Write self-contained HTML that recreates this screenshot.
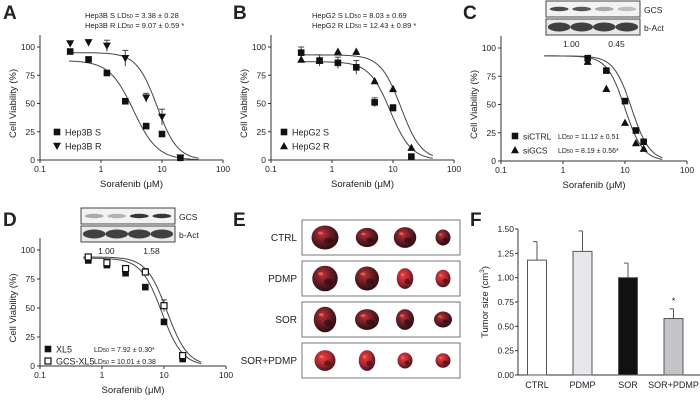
<!DOCTYPE html>
<html><head><meta charset="utf-8">
<style>
body{margin:0;background:#fff;}
svg{display:block;font-family:"Liberation Sans",Arial,sans-serif;}
</style></head>
<body>
<svg id="fig" width="700" height="408" viewBox="0 0 700 408" xmlns="http://www.w3.org/2000/svg">
<defs>
<radialGradient id="tum" cx="40%" cy="35%" r="65%">
<stop offset="0" stop-color="#c03038"/><stop offset="0.5" stop-color="#6a1e26"/><stop offset="1" stop-color="#2a0e12"/>
</radialGradient>
<radialGradient id="tum2" cx="40%" cy="35%" r="65%">
<stop offset="0" stop-color="#f04040"/><stop offset="0.55" stop-color="#a82832"/><stop offset="1" stop-color="#4a141c"/>
</radialGradient>
</defs>
<g id="root"></g>
</svg>
<script>
// ---------- DATA ----------
const aDoses=[0.3125,0.625,1.25,2.5,5.5,10,20];
const aS=[96,89,77,52,30,23,2];
const aR=[103,104,101,90,55,38,2];
const aRerr=[0,0,5,7,4,7,0];
const bDoses=[0.3125,0.625,1.25,2.5,5,10,20];
const bS=[95,88,86,82,51,46,3];
const bR=[89,88,96,96,70,63,11];
const bSerr=[5,5,5,6,4,3,0];
const cDoses=[2.5,5,10,15,20];
const cCtrl=[91,80,53,27,17];
const cGcs=[88,64,34,16,11];
const dDoses=[0.6,1.2,2.4,5,10,20];
const dXL5=[91,87,80,68,38,6];
const dGCS=[94,89,84,81,52,9];
const fCats=["CTRL","PDMP","SOR","SOR+PDMP"];
const fVals=[1.18,1.27,1.00,0.58];
const fErr=[0.19,0.21,0.15,0.10];
const yTicks=[0,25,50,75,100];
const xTicks=[0.1,1,10,100];
const xTickLabels=["0.1","1","10","100"];
const fTicks=[0,0.25,0.5,0.75,1.0,1.25,1.5];
const fTickLabels=["0.00","0.25","0.50","0.75","1.00","1.25","1.50"];

const NS="http://www.w3.org/2000/svg";
const root=document.getElementById('root');
function el(tag,attrs,parent,text){const e=document.createElementNS(NS,tag);for(const k in attrs)e.setAttribute(k,attrs[k]);if(text!==undefined)e.textContent=text;(parent||root).appendChild(e);return e;}
function hill(x,top,ec,h){return top/(1+Math.pow(x/ec,h));}

function makePanel(name,x0,y100,y0,decade){
  const g=el('g',{});
  
  
  const sx=v=>x0+decade*(Math.log10(v)+1);
  const sy=v=>y0-(y0-y100)*v/100;
  el('line',{x1:x0,y1:y100-12,x2:x0,y2:y0,stroke:'#333','stroke-width':1},g);
  el('line',{x1:x0,y1:y0,x2:x0+3*decade,y2:y0,stroke:'#333','stroke-width':1},g);
  yTicks.forEach(t=>{
    el('line',{x1:x0-3,y1:sy(t),x2:x0,y2:sy(t),stroke:'#333'},g);
    const tx=el('text',{x:x0-5,y:sy(t)+3,'font-size':8.5,'text-anchor':'end',fill:'#222'},g,String(t));
    
    
  });
  xTicks.forEach((t,i)=>{
    el('line',{x1:sx(t),y1:y0,x2:sx(t),y2:y0+3,stroke:'#333'},g);
    const tx=el('text',{x:sx(t),y:y0+12,'font-size':8.5,'text-anchor':'middle',fill:'#222'},g,xTickLabels[i]);
    
    
  });
  const yt=el('text',{x:0,y:0,'font-size':9.5,'text-anchor':'middle',fill:'#222',transform:`translate(${x0-24},${(y100+y0)/2}) rotate(-90)`},g,'Cell Viability (%)');
  
  
  const xt=el('text',{x:x0+1.5*decade,y:y0+27,'font-size':9.5,'text-anchor':'middle',fill:'#222'},g,'Sorafenib (μM)');
  
  
  return {g,sx,sy};
}
function curve(p,from,to,top,ec,h,name){
  let d='';for(let i=0;i<=120;i++){const lx=Math.log10(from)+(Math.log10(to)-Math.log10(from))*i/120;const x=Math.pow(10,lx);d+=(i?'L':'M')+p.sx(x).toFixed(1)+','+p.sy(hill(x,top,ec,h)).toFixed(1);}
  const c=el('path',{d:d,fill:'none',stroke:'#444','stroke-width':1},p.g);
  
  
}
function marker(g,type,cx,cy,name){
  let m;
  if(type==='sq')m=el('rect',{x:cx-3.3,y:cy-3.3,width:6.6,height:6.6,fill:'#111'},g);
  else if(type==='osq')m=el('rect',{x:cx-3,y:cy-3,width:6,height:6,fill:'#fff',stroke:'#111','stroke-width':1.2},g);
  else if(type==='tri')m=el('path',{d:`M${cx},${cy-4}L${cx+4},${cy+3.3}L${cx-4},${cy+3.3}Z`,fill:'#111'},g);
  else m=el('path',{d:`M${cx},${cy+4}L${cx+4},${cy-3.3}L${cx-4},${cy-3.3}Z`,fill:'#111'},g);
  
  
}
function series(p,xs,ys,errs,type,name){
  xs.forEach((x,i)=>{
    const cx=p.sx(x),cy=p.sy(ys[i]);
    const e=errs?errs[i]:0;
    if(e>0){el('line',{x1:cx,y1:p.sy(ys[i]+e),x2:cx,y2:p.sy(ys[i]-e),stroke:'#444'},p.g);
      el('line',{x1:cx-3,y1:p.sy(ys[i]+e),x2:cx+3,y2:p.sy(ys[i]+e),stroke:'#444'},p.g);}
    marker(p.g,type,cx,cy,name);
  });
}
function txt(x,y,s,size,anchor,name,weight,parent){const t=el('text',{x:x,y:y,'font-size':size,'text-anchor':anchor||'start',fill:'#222','font-weight':weight||'normal'},parent);t.textContent=s;
  
  
  return t;}
function ld(x,y,label,val,parent,size){const t=el('text',{x:x,y:y,'font-size':size||7.5,fill:'#222'},parent);t.innerHTML=(label?label+' ':'')+'LD<tspan font-size="5.5">50</tspan> = '+val;
  
  }
function legendEntry(g,type,x,y,label,size){marker(g,type,x,y,'legend-marker');txt(x+8,y+3.5,label,size||9,'start','legend-entry',null,g);}

// Panel letters
[['A',3,19],['B',233,19],['C',463,19],['D',3,226],['E',233,226],['F',470,226]].forEach(l=>txt(l[1],l[2],l[0],19,'start','panel-label-'+l[0].toLowerCase(),'bold'));

// Panel A
const pA=makePanel('panel-a-chart',40,47,160,61);
curve(pA,0.3,40,88,3.4,2.2,'hep3b-s-curve');
curve(pA,0.3,40,95,8.3,2.6,'hep3b-r-curve');
series(pA,aDoses,aS,null,'sq','hep3b-s-point');
series(pA,aDoses,aR,aRerr,'itri','hep3b-r-point');
legendEntry(pA.g,'sq',57,132,'Hep3B S');
legendEntry(pA.g,'itri',57,146,'Hep3B R');
ld(85,18,'Hep3B S','3.38 ± 0.28',pA.g);
ld(85,28,'Hep3B R','9.07 ± 0.59 *',pA.g);

// Panel B
const pB=makePanel('panel-b-chart',271,47,160,61);
curve(pB,0.3,45,87,9,2.5,'hepg2-s-curve');
curve(pB,0.3,45,93,13.5,2.6,'hepg2-r-curve');
series(pB,bDoses,bS,bSerr,'sq','hepg2-s-point');
series(pB,bDoses,bR,null,'tri','hepg2-r-point');
legendEntry(pB.g,'sq',284,132,'HepG2 S');
legendEntry(pB.g,'tri',284,146,'HepG2 R');
ld(312,18,'HepG2 S',' 8.03 ± 0.69',pB.g);
ld(312,28,'HepG2 R','12.43 ± 0.89 *',pB.g);

// Panel C
const pC=makePanel('panel-c-chart',501,48,161,62);
curve(pC,0.5,40,93,12.8,3,'sictrl-curve');
curve(pC,0.5,40,93,10,3,'sigcs-curve');
series(pC,cDoses,cCtrl,null,'sq','sictrl-point');
series(pC,cDoses,cGcs,null,'tri','sigcs-point');
legendEntry(pC.g,'sq',515,136,'siCTRL',8.5);
legendEntry(pC.g,'tri',515,150,'siGCS',8.5);
ld(558,139,'','11.12 ± 0.51',pC.g,7);
ld(558,153,'',' 8.19 ± 0.56*',pC.g,7);

// Panel D
const pD=makePanel('panel-d-chart',40,250,366,62);
curve(pD,0.5,40,93,9.2,2.6,'xl5-curve');
curve(pD,0.5,40,94,11.2,2.6,'gcs-xl5-curve');
series(pD,dDoses,dXL5,null,'sq','xl5-point');
series(pD,dDoses,dGCS,[0,0,0,3,5,0],'osq','gcs-xl5-point');
legendEntry(pD.g,'sq',48,349,'XL5',9);
legendEntry(pD.g,'osq',48,361,'GCS-XL5',9);
ld(94,352,'','  7.92 ± 0.30*',pD.g,7);
ld(94,364,'','10.01 ± 0.38',pD.g,7);

// Western blots
function blot(x,y,w,gcs,label1,label2,name){
  const g=el('g',{});
  
  
  el('rect',{x:x,y:y,width:w,height:16,fill:'#f2f2f2',stroke:'#444'},g);
  el('rect',{x:x,y:y+18,width:w,height:16,fill:'#e8e8e8',stroke:'#444'},g);
  for(let i=0;i<4;i++){
    const cx=x+w*(0.14+0.24*i);
    el('ellipse',{cx:cx,cy:y+8,rx:w*0.1,ry:2.2,fill:'#222','fill-opacity':gcs[i]},g);
    el('ellipse',{cx:cx,cy:y+26,rx:w*0.12,ry:4.5,fill:'#222','fill-opacity':0.85},g);
  }
  txt(x+w+4,y+12,'GCS',8.5,'start','blot-gcs-label',null,g);
  txt(x+w+4,y+30,'b-Act',8.5,'start','blot-bact-label',null,g);
  txt(x+w*0.27,y+46,label1,8.5,'middle','blot-ratio',null,g);
  txt(x+w*0.75,y+46,label2,8.5,'middle','blot-ratio',null,g);
}
blot(546,1,94,[0.8,0.75,0.35,0.25],'1.00','0.45','panel-c-blot');
blot(81,208,94,[0.35,0.3,0.9,0.9],'1.00','1.58','panel-d-blot');

// Panel E tumors
const eRows=["CTRL","PDMP","SOR","SOR+PDMP"];
const eY=[220,261,302,343];
const eSizes=[[[18,15],[15,12],[15,13],[10,10]],[[17,16],[16,15],[11,13],[10,11]],[[15,16],[16,13],[12,13],[12,10]],[[14,13],[11,13],[10,10],[10,9]]];
const eCx=[325,367,405,443];
eRows.forEach((r,i)=>{
  const g=el('g',{});
  
  
  el('rect',{x:302,y:eY[i],width:158,height:35,fill:'#fff',stroke:'#777'},g);
  txt(297,eY[i]+21,r,10,'end','tumor-row-label',null,g);
  eSizes[i].forEach((s,j)=>{
    const cx=eCx[j],cy=eY[i]+17.5;
    const e=el('ellipse',{cx:cx,cy:cy,rx:s[0]*0.75,ry:s[1]*0.8,fill:(i===3||(j>=2&&i===1))?'url(#tum2)':'url(#tum)'},g);
    
    
    el('ellipse',{cx:cx+s[0]*0.2,cy:cy+s[1]*0.2,rx:s[0]*0.25,ry:s[1]*0.2,fill:'#1a0608','fill-opacity':0.5},g);
    el('ellipse',{cx:cx-s[0]*0.25,cy:cy-s[1]*0.3,rx:s[0]*0.15,ry:s[1]*0.1,fill:'#ff8070','fill-opacity':0.6},g);
  });
});

// Panel F bar chart
const fg=el('g',{});


const fx0=518,fy0=375,fyTop=229;
const fsy=v=>fy0-(fy0-fyTop)*v/1.5;
const fColors=['#ffffff','#e8e8ec','#111111','#c4c4c8'];
const fsx=i=>537+i*45.5;
el('line',{x1:fx0,y1:fyTop,x2:fx0,y2:fy0,stroke:'#333'},fg);
el('line',{x1:fx0,y1:fy0,x2:700,y2:fy0,stroke:'#333'},fg);
fTicks.forEach((t,i)=>{el('line',{x1:fx0-3,y1:fsy(t),x2:fx0,y2:fsy(t),stroke:'#333'},fg);
  txt(fx0-4,fsy(t)+3,fTickLabels[i],8.5,'end','f-y-tick-label',null,fg);});
fCats.forEach((c,i)=>{
  const cx=fsx(i);
  el('line',{x1:cx,y1:fsy(fVals[i]),x2:cx,y2:fsy(fVals[i]+fErr[i]),stroke:'#555'},fg);
  el('line',{x1:cx-4,y1:fsy(fVals[i]+fErr[i]),x2:cx,y2:fsy(fVals[i]+fErr[i]),stroke:'#555'},fg);
  const b=el('rect',{x:cx-9.5,y:fsy(fVals[i]),width:19,height:fy0-fsy(fVals[i]),fill:fColors[i],stroke:'#555'},fg);
  
  
  txt(cx,fy0+13,c,9,'middle','f-x-tick-label',null,fg);
});
txt(fsx(3),fsy(fVals[3]+fErr[3])-5,'*',9,'middle','significance-star',null,fg);
const fyt=el('text',{x:0,y:0,'font-size':9.5,'text-anchor':'middle',fill:'#222',transform:`translate(${fx0-30},${(fy0+fyTop)/2}) rotate(-90)`},fg);
fyt.innerHTML='Tumor size (cm<tspan font-size="6.5" dy="-4">3</tspan><tspan dy="4">)</tspan>';


</script>
</body></html>
